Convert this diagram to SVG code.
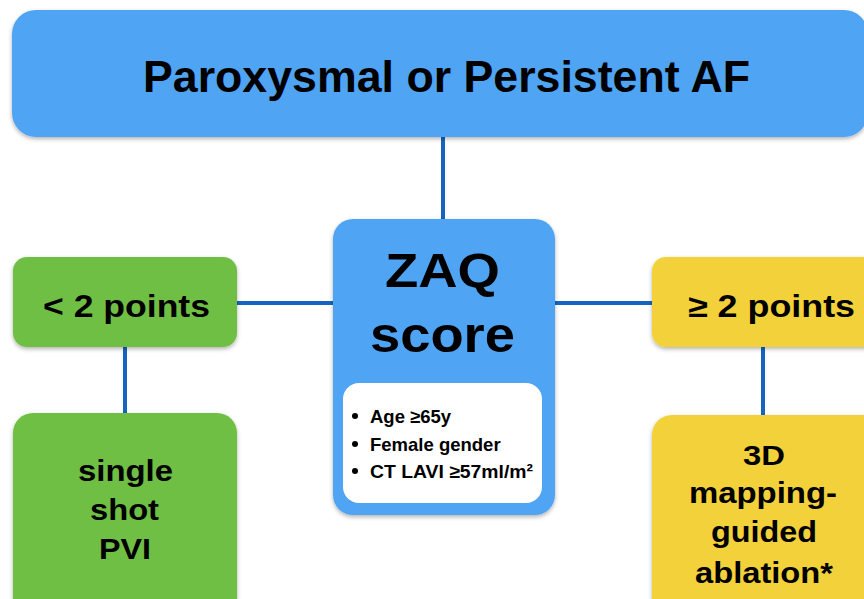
<svg xmlns="http://www.w3.org/2000/svg" width="864" height="599" viewBox="0 0 864 599">
<style>
text{font-family:"Liberation Sans",Arial,sans-serif;font-weight:bold;fill:#000;text-anchor:middle}
.blue{fill:#4FA4F4}
.green{fill:#70BF44}
.yellow{fill:#F2D13B}
.conn{stroke:#1565C0;stroke-width:4;fill:none}
.b{text-anchor:start;font-size:18.5px}
</style>
<defs>
<filter id="sh" x="-10%" y="-10%" width="120%" height="130%">
<feDropShadow dx="0" dy="2" stdDeviation="2" flood-color="#000" flood-opacity="0.3"/>
</filter>
</defs>
<g id="connectors">
<line class="conn" x1="443" y1="137" x2="443" y2="221"/>
<line class="conn" x1="236" y1="303" x2="335" y2="303"/>
<line class="conn" x1="554" y1="303" x2="653" y2="303"/>
<line class="conn" x1="125" y1="346" x2="125" y2="414"/>
<line class="conn" x1="763" y1="346" x2="763" y2="416"/>
</g>
<g id="top">
<rect class="blue" x="12" y="10" width="856" height="127" rx="24" filter="url(#sh)"/>
<text x="446.5" y="92" font-size="44" textLength="607" lengthAdjust="spacingAndGlyphs">Paroxysmal or Persistent AF</text>
</g>
<g id="zaq">
<rect class="blue" x="333" y="219" width="222" height="296" rx="20" filter="url(#sh)"/>
<text x="442.5" y="287" font-size="48" textLength="115" lengthAdjust="spacingAndGlyphs">ZAQ</text>
<text x="442.5" y="352" font-size="50" textLength="145" lengthAdjust="spacingAndGlyphs">score</text>
<rect x="343" y="383" width="199" height="120" rx="16" fill="#fff"/>
<circle cx="355" cy="416" r="3" fill="#000"/>
<text class="b" x="370" y="423">Age ≥65y</text>
<circle cx="355" cy="444" r="3" fill="#000"/>
<text class="b" x="370" y="451">Female gender</text>
<circle cx="355" cy="471" r="3" fill="#000"/>
<text class="b" x="370" y="478" textLength="163" lengthAdjust="spacingAndGlyphs">CT LAVI ≥57ml/m²</text>
</g>
<g id="lt2">
<rect class="green" x="13" y="257" width="224" height="90" rx="14" filter="url(#sh)"/>
<text x="126.5" y="317" font-size="31" textLength="167" lengthAdjust="spacingAndGlyphs">&lt; 2 points</text>
</g>
<g id="pvi">
<rect class="green" x="13" y="413" width="224" height="210" rx="20" filter="url(#sh)"/>
<text x="125.5" y="481" font-size="30" textLength="95" lengthAdjust="spacingAndGlyphs">single</text>
<text x="124.5" y="520" font-size="30" textLength="69" lengthAdjust="spacingAndGlyphs">shot</text>
<text x="125" y="559" font-size="30" textLength="52" lengthAdjust="spacingAndGlyphs">PVI</text>
</g>
<g id="ge2">
<rect class="yellow" x="652" y="257" width="240" height="90" rx="14" filter="url(#sh)"/>
<text x="771.5" y="317" font-size="31" textLength="167" lengthAdjust="spacingAndGlyphs">≥ 2 points</text>
</g>
<g id="ablation">
<rect class="yellow" x="652" y="415" width="240" height="210" rx="20" filter="url(#sh)"/>
<text x="764" y="465" font-size="28" textLength="42" lengthAdjust="spacingAndGlyphs">3D</text>
<text x="763" y="503" font-size="30" textLength="148" lengthAdjust="spacingAndGlyphs">mapping-</text>
<text x="764" y="542" font-size="30" textLength="106" lengthAdjust="spacingAndGlyphs">guided</text>
<text x="764" y="583" font-size="30" textLength="138" lengthAdjust="spacingAndGlyphs">ablation*</text>
</g>
</svg>
